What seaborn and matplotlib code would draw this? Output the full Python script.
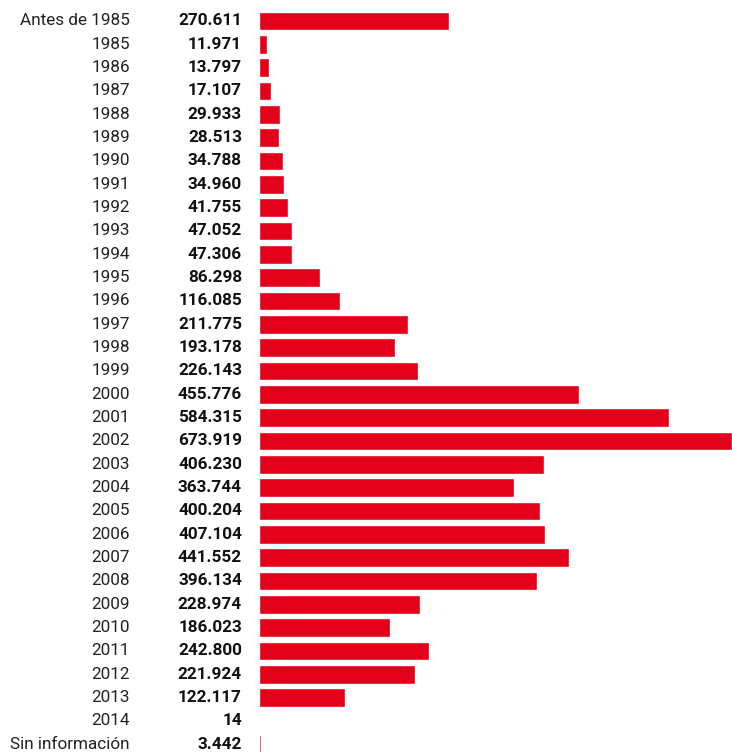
import numpy as np
import pandas as pd
import seaborn as sns
import matplotlib.pyplot as plt
from matplotlib.transforms import blended_transform_factory

## --- data
periodos = ['Antes de 1985', '1985', '1986', '1987', '1988', '1989', '1990',
            '1991', '1992', '1993', '1994', '1995', '1996', '1997', '1998',
            '1999', '2000', '2001', '2002', '2003', '2004', '2005', '2006',
            '2007', '2008', '2009', '2010', '2011', '2012', '2013', '2014',
            'Sin información']
valores = [270611, 11971, 13797, 17107, 29933, 28513, 34788, 34960, 41755,
           47052, 47306, 86298, 116085, 211775, 193178, 226143, 455776,
           584315, 673919, 406230, 363744, 400204, 407104, 441552, 396134,
           228974, 186023, 242800, 221924, 122117, 14, 3442]
etiquetas = ['270.611', '11.971', '13.797', '17.107', '29.933', '28.513',
             '34.788', '34.960', '41.755', '47.052', '47.306', '86.298',
             '116.085', '211.775', '193.178', '226.143', '455.776', '584.315',
             '673.919', '406.230', '363.744', '400.204', '407.104', '441.552',
             '396.134', '228.974', '186.023', '242.800', '221.924', '122.117',
             '14', '3.442']

df = pd.DataFrame({'periodo': periodos, 'valor': valores})

sns.set_theme(style='white')
plt.rcParams['font.family'] = ['Roboto', 'DejaVu Sans']

fig = plt.figure(figsize=(7.32, 7.52), dpi=100)
ax = fig.add_axes([259 / 732, 0, 1 - 259 / 732, 1])

sns.barplot(data=df, y='periodo', x='valor', orient='h', color='#E2001A',
            saturation=1, width=0.8, ax=ax)

n = len(periodos)
ax.set_xlim(0, max(valores))
ax.set_ylim(n - 1 + 0.33, -0.9)
ax.set_axis_off()

## --- labels in figure x, data y
trans = blended_transform_factory(fig.transFigure, ax.transData)
for i, (p, e) in enumerate(zip(periodos, etiquetas)):
    ax.text(130 / 732, i, p, transform=trans, ha='right', va='center',
            fontsize=12.3, color='#222222', clip_on=False)
    ax.text(242 / 732, i, e, transform=trans, ha='right', va='center',
            fontsize=12.3, fontweight='bold', color='#111111', clip_on=False)

fig.savefig('out.png', dpi=100)
